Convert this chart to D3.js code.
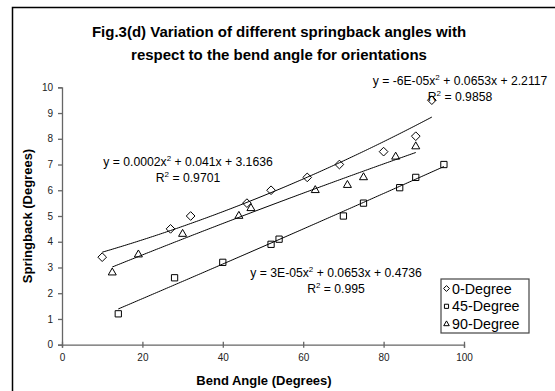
<!DOCTYPE html>
<html>
<head>
<meta charset="utf-8">
<script src="https://cdn.jsdelivr.net/npm/d3@7"></script>
<style>
  body { margin: 0; background: #fff; }
  svg { display: block; font-family: "Liberation Sans", Arial, sans-serif; }
</style>
</head>
<body>
<svg width="555" height="391"></svg>
<script>
// Data
var seriesNames = ["0-Degree", "45-Degree", "90-Degree"];

var bend0 = [10, 27, 32, 46, 52, 61, 69, 80, 88, 92];
var spring0 = [3.4, 4.5, 5.0, 5.5, 6.0, 6.5, 7.0, 7.5, 8.1, 9.5];

var bend45 = [14, 28, 40, 52, 54, 70, 75, 84, 88, 95];
var spring45 = [1.2, 2.6, 3.2, 3.9, 4.1, 5.0, 5.5, 6.1, 6.5, 7.0];

var bend90 = [12.5, 19, 30, 44, 47, 63, 71, 75, 83, 88];
var spring90 = [2.8, 3.5, 4.3, 5.0, 5.3, 6.0, 6.2, 6.5, 7.3, 7.7];

// trendline labels (as printed on the chart)
var eqTop = ["y = -6E-05x", " + 0.0653x + 2.2117"], r2Top = "0.9858";
var eqMid = ["y = 0.0002x", " + 0.041x + 3.1636"], r2Mid = "0.9701";
var eqBot = ["y = 3E-05x", " + 0.0653x + 0.4736"], r2Bot = "0.995";

var xTicks = [0, 20, 40, 60, 80, 100];
var yTicks = [0, 1, 2, 3, 4, 5, 6, 7, 8, 9, 10];

var svg = d3.select("svg");

// outer frame (runs off the right/bottom edge like the scan)
svg.append("rect")
    .attr("x", 12.5).attr("y", 7.5)
    .attr("width", 700).attr("height", 600)
    .attr("fill", "none").attr("stroke", "#000").attr("stroke-width", 1.5);

// title
svg.append("text").attr("x", 279).attr("y", 37)
    .attr("text-anchor", "middle").attr("font-weight", "bold").attr("font-size", 15)
    .text("Fig.3(d) Variation of different springback angles with");
svg.append("text").attr("x", 279).attr("y", 60)
    .attr("text-anchor", "middle").attr("font-weight", "bold").attr("font-size", 15)
    .text("respect to the bend angle for orientations");

var x = d3.scaleLinear().domain([0, 100]).range([62, 464]);
var y = d3.scaleLinear().domain([0, 10]).range([344.7, 87.3]);

// axes
var xAxis = svg.append("g").attr("transform", "translate(0," + y(0) + ")")
    .call(d3.axisBottom(x).tickValues(xTicks).tickSize(3).tickPadding(6));
var yAxis = svg.append("g").attr("transform", "translate(" + x(0) + ",0)")
    .call(d3.axisLeft(y).tickValues(yTicks).tickSize(4).tickPadding(5));

[xAxis, yAxis].forEach(function (g) {
    g.select(".domain").attr("stroke", "#666").attr("stroke-width", 1.3);
    g.selectAll(".tick line").attr("stroke", "#666").attr("stroke-width", 1.3);
    g.selectAll(".tick text").attr("font-size", 10).attr("fill", "#222")
        .attr("font-family", "Liberation Sans, Arial, sans-serif");
});
// x ticks cross the axis line
xAxis.selectAll(".tick line").attr("y1", -3).attr("y2", 3);

// axis titles
svg.append("text").attr("x", 264).attr("y", 385)
    .attr("text-anchor", "middle").attr("font-weight", "bold").attr("font-size", 13)
    .text("Bend Angle (Degrees)");
svg.append("text")
    .attr("transform", "translate(32,216) rotate(-90)")
    .attr("text-anchor", "middle").attr("font-weight", "bold").attr("font-size", 13)
    .text("Springback (Degrees)");

// least squares 2nd order polynomial, like the spreadsheet trendline
function polyFit(xs, ys) {
    var s = [0, 0, 0, 0, 0], t = [0, 0, 0];
    xs.forEach(function (xv, i) {
        for (var k = 0; k < 5; k++) s[k] += Math.pow(xv, k);
        for (var j = 0; j < 3; j++) t[j] += ys[i] * Math.pow(xv, j);
    });
    var m = [[s[0], s[1], s[2], t[0]], [s[1], s[2], s[3], t[1]], [s[2], s[3], s[4], t[2]]];
    for (var i = 0; i < 3; i++) {
        for (var r = i + 1; r < 3; r++) {
            var f = m[r][i] / m[i][i];
            for (var c = i; c < 4; c++) m[r][c] -= f * m[i][c];
        }
    }
    var b = [0, 0, 0];
    for (var i2 = 2; i2 >= 0; i2--) {
        var v = m[i2][3];
        for (var c2 = i2 + 1; c2 < 3; c2++) v -= m[i2][c2] * b[c2];
        b[i2] = v / m[i2][i2];
    }
    return function (xv) { return b[0] + b[1] * xv + b[2] * xv * xv; };
}

var series = [
    { name: seriesNames[0], xs: bend0, ys: spring0, shape: d3.symbolDiamond2 },
    { name: seriesNames[1], xs: bend45, ys: spring45, shape: d3.symbolSquare2 },
    { name: seriesNames[2], xs: bend90, ys: spring90, shape: d3.symbolTriangle2 }
];
var markerSize = [48, 50, 46];

var line = d3.line().x(function (d) { return x(d[0]); }).y(function (d) { return y(d[1]); });

series.forEach(function (s, i) {
    svg.append("g").selectAll("path")
        .data(d3.zip(s.xs, s.ys))
        .enter().append("path")
        .attr("transform", function (d) { return "translate(" + x(d[0]) + "," + y(d[1]) + ")"; })
        .attr("d", d3.symbol().type(s.shape).size(markerSize[i]))
        .attr("fill", "#fff").attr("stroke", "#000").attr("stroke-width", 1);
});

series.forEach(function (s) {
    var f = polyFit(s.xs, s.ys);
    var pts = d3.range(d3.min(s.xs), d3.max(s.xs) + 0.01, 0.5).map(function (v) { return [v, f(v)]; });
    svg.append("path").datum(pts)
        .attr("d", line).attr("fill", "none").attr("stroke", "#000").attr("stroke-width", 1);
});

// equation labels
function eqLabel(cx, by, eq, r2) {
    var t = svg.append("text").attr("x", cx).attr("y", by)
        .attr("text-anchor", "middle").attr("font-size", 12.2);
    t.append("tspan").text(eq[0]);
    t.append("tspan").attr("dy", -5).attr("font-size", 8).text("2");
    t.append("tspan").attr("dy", 5).text(eq[1]);
    var r = svg.append("text").attr("x", cx).attr("y", by + 16)
        .attr("text-anchor", "middle").attr("font-size", 12.2);
    r.append("tspan").text("R");
    r.append("tspan").attr("dy", -5).attr("font-size", 8).text("2");
    r.append("tspan").attr("dy", 5).text(" = " + r2);
}
eqLabel(460, 85, eqTop, r2Top);
eqLabel(188, 166, eqMid, r2Mid);
eqLabel(336, 277, eqBot, r2Bot);

// legend
var legend = svg.append("g").attr("transform", "translate(441,279)");
legend.append("rect").attr("width", 88).attr("height", 54)
    .attr("fill", "#fff").attr("stroke", "#444").attr("stroke-width", 1.2);
series.forEach(function (s, i) {
    var row = legend.append("g").attr("transform", "translate(0," + (9.5 + i * 17.8) + ")");
    row.append("path").attr("transform", "translate(5.5,0)")
        .attr("d", d3.symbol().type(s.shape).size(22))
        .attr("fill", "#fff").attr("stroke", "#000").attr("stroke-width", 1);
    row.append("text").attr("x", 11).attr("y", 5).attr("font-size", 14.3).text(s.name);
});
</script>
</body>
</html>
